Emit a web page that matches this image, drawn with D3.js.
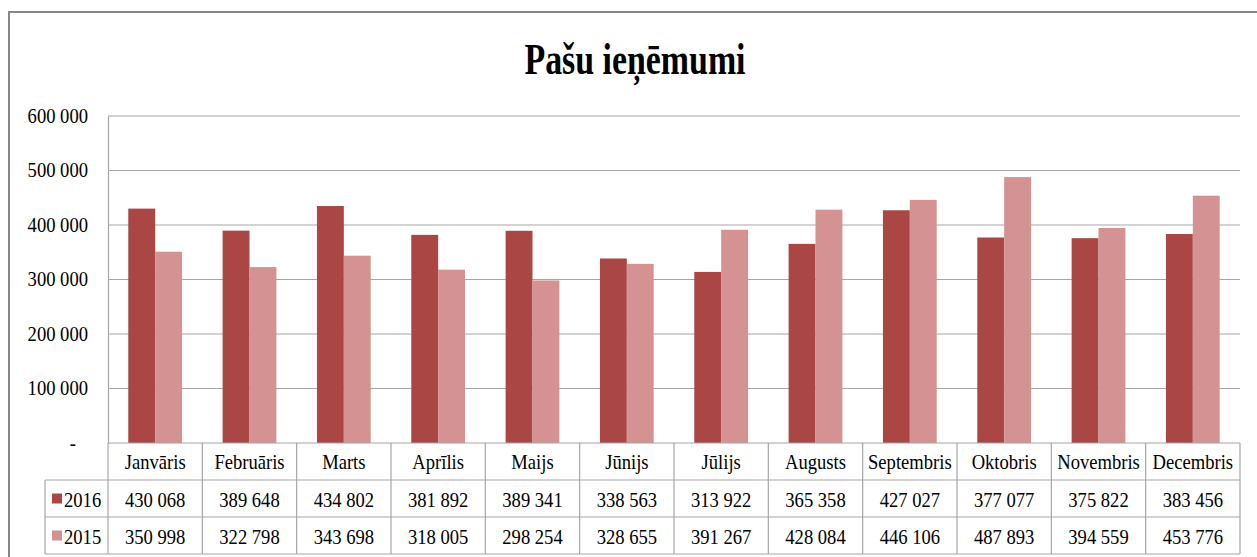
<!DOCTYPE html>
<html>
<head>
<meta charset="utf-8">
<script src="https://cdn.jsdelivr.net/npm/d3@7"></script>
<style>
  body { margin: 0; background: #fff; }
  svg text { font-family: "Liberation Serif", "Times New Roman", serif; fill: #000; }
</style>
</head>
<body>
<script>
const months = ["Janvāris", "Februāris", "Marts", "Aprīlis", "Maijs", "Jūnijs",
  "Jūlijs", "Augusts", "Septembris", "Oktobris", "Novembris", "Decembris"]
const years = ["2016", "2015"]
const values2016 = [430068, 389648, 434802, 381892, 389341, 338563, 313922, 365358, 427027, 377077, 375822, 383456]
const values2015 = [350998, 322798, 343698, 318005, 298254, 328655, 391267, 428084, 446106, 487893, 394559, 453776]
const yTicks = [0, 100000, 200000, 300000, 400000, 500000, 600000]
const colors = ["#AA4643", "#D49392"]

const W = 1257, H = 557
const plot = {left: 108, right: 1240, top: 116, bottom: 443}
const rowH = 37
const sx = 0.93 // text looks a bit squeezed

const loc = d3.formatLocale({decimal: ",", thousands: " ", grouping: [3], currency: ["", ""]})
const fmt = loc.format(",d")

const svg = d3.select("body").append("svg")
  .attr("width", W)
  .attr("height", H)

// outer frame
svg.append("rect")
  .attr("x", 9).attr("y", 12)
  .attr("width", 1300).attr("height", 600)
  .attr("fill", "none")
  .attr("stroke", "#878787")
  .attr("stroke-width", 2)

// title
svg.append("text")
  .attr("transform", "translate(635,74) scale(0.77,1)")
  .attr("text-anchor", "middle")
  .style("font-size", "44px")
  .style("font-weight", "bold")
  .text("Pašu ieņēmumi")

const y = d3.scaleLinear().domain([0, 600000]).range([plot.bottom, plot.top])
const x = d3.scaleBand().domain(months).range([plot.left, plot.right])
  .paddingInner(0.43).paddingOuter(0.215)
const xCol = d3.scaleBand().domain(months).range([plot.left, plot.right])
const xs = d3.scaleBand().domain(years).range([0, x.bandwidth()])

// gridlines
svg.append("g")
  .selectAll("line")
  .data(yTicks.filter(d => d > 0))
  .join("line")
  .attr("x1", plot.left).attr("x2", plot.right)
  .attr("y1", d => y(d)).attr("y2", d => y(d))
  .attr("stroke", "#A6A6A6")
  .attr("stroke-width", 1.2)

// y axis
const yAxis = svg.append("g")
  .attr("transform", `translate(${plot.left},0)`)
  .call(d3.axisLeft(y).tickValues(yTicks).tickSize(0).tickPadding(20)
    .tickFormat(d => d === 0 ? "-" : fmt(d)))
yAxis.select(".domain").attr("stroke", "#A6A6A6").attr("stroke-width", 1.2)
yAxis.selectAll("text")
  .style("font-family", "Liberation Serif")
  .style("font-size", "20px")
  .attr("fill", "#000")
  .attr("transform", `scale(${sx},1)`)
  .attr("x", -20 / sx)
yAxis.selectAll(".tick").filter(d => d === 0).select("text")
  .attr("x", -32 / sx)

// bars
const series = [values2016, values2015]
const groups = svg.append("g")
  .selectAll("g")
  .data(months)
  .join("g")
  .attr("transform", d => `translate(${x(d)},0)`)
groups.selectAll("rect")
  .data((d, i) => years.map((yr, k) => ({yr, v: series[k][i], k})))
  .join("rect")
  .attr("x", d => xs(d.yr))
  .attr("width", xs.bandwidth())
  .attr("y", d => y(d.v))
  .attr("height", d => y(0) - y(d.v))
  .attr("fill", d => colors[d.k])

// data table
const table = svg.append("g")
const tStroke = "#A6A6A6"
const rowsTop = [plot.bottom, plot.bottom + rowH, plot.bottom + rowH * 2]
const tableBottom = plot.bottom + rowH * 3
const legendLeft = 45

// horizontal lines
table.append("line").attr("x1", plot.left).attr("x2", plot.right)
  .attr("y1", plot.bottom).attr("y2", plot.bottom)
  .attr("stroke", tStroke).attr("stroke-width", 1.2)
;[rowsTop[1], rowsTop[2], tableBottom].forEach(yy => {
  table.append("line").attr("x1", legendLeft).attr("x2", plot.right)
    .attr("y1", yy).attr("y2", yy)
    .attr("stroke", tStroke).attr("stroke-width", 1.2)
})
// vertical lines
months.forEach(m => {
  table.append("line")
    .attr("x1", xCol(m) + xCol.bandwidth()).attr("x2", xCol(m) + xCol.bandwidth())
    .attr("y1", plot.bottom).attr("y2", tableBottom)
    .attr("stroke", tStroke).attr("stroke-width", 1.2)
})
table.append("line").attr("x1", plot.left).attr("x2", plot.left)
  .attr("y1", plot.bottom).attr("y2", tableBottom)
  .attr("stroke", tStroke).attr("stroke-width", 1.2)
table.append("line").attr("x1", legendLeft).attr("x2", legendLeft)
  .attr("y1", rowsTop[1]).attr("y2", tableBottom)
  .attr("stroke", tStroke).attr("stroke-width", 1.2)

// header labels
table.selectAll("text.hdr")
  .data(months)
  .join("text")
  .attr("class", "hdr")
  .attr("transform", d => `translate(${xCol(d) + xCol.bandwidth() / 2},${rowsTop[0] + 26}) scale(${sx},1)`)
  .attr("text-anchor", "middle")
  .style("font-size", "20px")
  .text(d => d)

// value rows
years.forEach((yr, k) => {
  const top = rowsTop[k + 1]
  table.append("rect")
    .attr("x", 52).attr("y", top + rowH / 2 - 5)
    .attr("width", 10).attr("height", 10)
    .attr("fill", colors[k])
  table.append("text")
    .attr("transform", `translate(64,${top + 27}) scale(${sx},1)`)
    .style("font-size", "20px")
    .text(yr)
  table.selectAll("text.v" + yr)
    .data(months)
    .join("text")
    .attr("class", "v" + yr)
    .attr("transform", (d, i) => `translate(${xCol(d) + xCol.bandwidth() / 2},${top + 27}) scale(${sx},1)`)
    .attr("text-anchor", "middle")
    .style("font-size", "20px")
    .text((d, i) => fmt(series[k][i]))
})
</script>
</body>
</html>
